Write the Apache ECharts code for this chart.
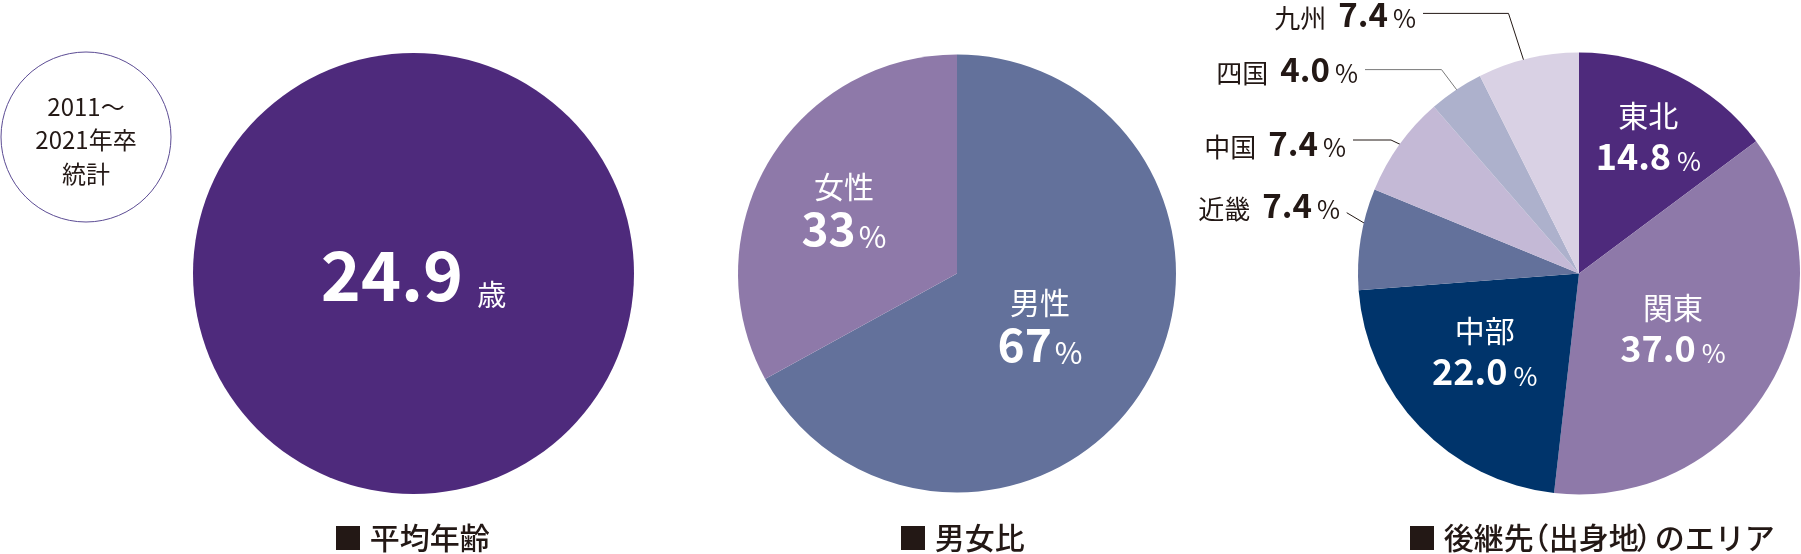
<!DOCTYPE html>
<html><head><meta charset="utf-8">
<script src="https://cdn.jsdelivr.net/npm/echarts@6/dist/echarts.min.js"></script>
<style>html,body{margin:0;padding:0;background:#fff}#c{width:1801px;height:554px}</style>
</head><body><div id="c"></div>
<script>
// ---- data ----
const ageValues = [24.9];
const ageUnit = '歳';
const genderNames = ['男性', '女性'];
const genderValues = [67, 33];
const areaNames = ['東北', '関東', '中部', '近畿', '中国', '四国', '九州'];
const areaValues = [14.8, 37.0, 22.0, 7.4, 7.4, 4.0, 7.4];
const chartTitles = ['平均年齢', '男女比', '後継先（出身地）のエリア'];
const noteLines = ['2011～', '2021年卒', '統計'];

// ---- style ----
const FONT = '"Noto Sans CJK JP", "Noto Sans", sans-serif';
const INK = '#231815';
const C = { deep: '#4e2a7c', lav: '#8e79a9', slate: '#63719b', navy: '#00346b', l1: '#c4b9d6', l2: '#adb1cc', l3: '#d9d1e4' };
const ageColors = [C.deep];
const genderColors = [C.slate, C.lav];
const areaColors = [C.deep, C.lav, C.navy, C.slate, C.l1, C.l2, C.l3];

const P1 = { cx: 413.5, cy: 273.5, r: 220.5 };
const P2 = { cx: 957, cy: 273.5, r: 219 };
const P3 = { cx: 1579, cy: 273.5, r: 221 };

function angleAt(values, i, t) {
  const total = values.reduce((a, b) => a + b, 0);
  let cum = 0;
  for (let k = 0; k < i; k++) cum += values[k];
  return (cum + values[i] * t) / total * Math.PI * 2;
}
function polar(p, a, f) { return [p.cx + Math.sin(a) * p.r * f, p.cy - Math.cos(a) * p.r * f]; }

// label placement: t = position within slice (0..1), f = radius fraction
const genderInner = { 0: { t: 0.5, f: 0.44 }, 1: { t: 0.5, f: 0.6 } };
const areaInner = { 0: { t: 0.5, f: 0.70 }, 1: { t: 0.5, f: 0.49 }, 2: { t: 0.56, f: 0.55 } };
const areaOuter = {
  3: { tx: 1340, ty: 203, ly: 212.7, ex: 1346.7, t: 0.6, f: 0.92, col: INK },
  4: { tx: 1346, ty: 141, ly: 140, ex: 1391, t: 0.55, f: 0.9, col: INK },
  5: { tx: 1358, ty: 67, ly: 69.6, ex: 1441.5, t: 0.52, f: 0.97, col: '#7a7a7a' },
  6: { tx: 1416, ty: 12, ly: 13.4, ex: 1508.5, t: 0.46, f: 0.95, col: INK }
};

const innerRich = {
  n: { fontFamily: FONT, fontSize: 30, color: '#fff', lineHeight: 40, verticalAlign: 'bottom' },
  v: { fontFamily: FONT, fontSize: 36, fontWeight: 'bold', color: '#fff', lineHeight: 44, verticalAlign: 'bottom' },
  p: { fontFamily: FONT, fontSize: 26, color: '#fff', lineHeight: 36, verticalAlign: 'bottom', padding: [0, 0, 0, 6] }
};
const outerRich = {
  on: { fontFamily: FONT, fontSize: 26, color: INK, lineHeight: 33, verticalAlign: 'bottom', padding: [0, 12, 0, 0] },
  ov: { fontFamily: FONT, fontSize: 33, fontWeight: 'bold', color: INK, lineHeight: 38, verticalAlign: 'bottom' },
  op: { fontFamily: FONT, fontSize: 25, color: INK, lineHeight: 32, verticalAlign: 'bottom', padding: [0, 0, 0, 5] }
};
const genderRich = {
  n: { fontFamily: FONT, fontSize: 30, color: '#fff', lineHeight: 44, verticalAlign: 'bottom' },
  v: { fontFamily: FONT, fontSize: 46, fontWeight: 'bold', color: '#fff', lineHeight: 50, verticalAlign: 'bottom' },
  p: { fontFamily: FONT, fontSize: 30, color: '#fff', lineHeight: 37, verticalAlign: 'bottom', padding: [0, 0, 0, 3] }
};

const chart = echarts.init(document.getElementById('c'), null, { renderer: 'canvas' });

const areaData = areaNames.map((n, i) => {
  const outer = areaOuter[i];
  return {
    name: n, value: areaValues[i],
    itemStyle: { color: areaColors[i] },
    label: outer
      ? { position: 'outside', formatter: '{on|' + n + '}{ov|' + areaValues[i].toFixed(1) + '}{op|%}', rich: outerRich }
      : { position: 'inside', formatter: '{n|' + n + '}\n{v|' + areaValues[i].toFixed(1) + '}{p|%}', rich: innerRich },
    labelLine: { show: !!outer, lineStyle: { color: outer ? outer.col : INK, width: 1 } }
  };
});

// ---- titles as text pieces (proportional brackets) ----
const TITLE_FONT_W = 500, TITLE_FS = 30;
const mctx = document.createElement('canvas').getContext('2d');
mctx.font = TITLE_FONT_W + ' ' + TITLE_FS + 'px ' + FONT;
function titleGraphics(text, x0, y) {
  const out = [];
  const pieces = ('■ ' + text).split(/([（）])/).filter(s => s.length);
  let x = x0;
  pieces.forEach(s => {
    let dx = 0, adv = mctx.measureText(s).width;
    if (s === '（') { dx = -TITLE_FS * 0.48; adv = TITLE_FS * 0.5; }
    if (s === '）') { dx = -TITLE_FS * 0.1; adv = TITLE_FS * 0.53; }
    out.push({ type: 'text', x: x + dx, y: y, silent: true,
      style: { text: s, fontFamily: FONT, fontWeight: TITLE_FONT_W, fontSize: TITLE_FS, fill: INK, align: 'left', verticalAlign: 'middle' } });
    x += adv;
  });
  return out;
}
const titleX = [333, 898, 1407];

const option = {
  animation: false,
  series: [
    {
      type: 'pie', silent: true, center: [P1.cx, P1.cy], radius: P1.r, startAngle: 90,
      data: ageValues.map((v, i) => ({ name: chartTitles[0], value: v, itemStyle: { color: ageColors[i] } })),
      label: {
        show: true, position: 'center',
        formatter: p => '{v|' + p.value.toFixed(1) + '}{u|' + ageUnit + '}',
        rich: {
          v: { fontFamily: FONT, fontSize: 68, fontWeight: 'bold', color: '#fff', lineHeight: 78, verticalAlign: 'bottom' },
          u: { fontFamily: FONT, fontSize: 29, color: '#fff', lineHeight: 46, verticalAlign: 'bottom', padding: [0, 0, 0, 14] }
        }
      },
      labelLayout: { dy: -3 },
      labelLine: { show: false }
    },
    {
      type: 'pie', silent: true, center: [P2.cx, P2.cy], radius: P2.r, startAngle: 90, clockwise: true,
      avoidLabelOverlap: false,
      data: genderNames.map((n, i) => ({ name: n, value: genderValues[i], itemStyle: { color: genderColors[i] } })),
      label: {
        show: true, position: 'inside',
        formatter: p => '{n|' + p.name + '}\n{v|' + p.value + '}{p|%}',
        rich: genderRich
      },
      labelLine: { show: false },
      labelLayout: params => {
        const g = genderInner[params.dataIndex];
        const pt = polar(P2, angleAt(genderValues, params.dataIndex, g.t), g.f);
        return { x: pt[0], y: pt[1] - 2, align: 'center', verticalAlign: 'middle' };
      }
    },
    {
      type: 'pie', silent: true, center: [P3.cx, P3.cy], radius: P3.r, startAngle: 90, clockwise: true,
      avoidLabelOverlap: false,
      data: areaData,
      label: { show: true },
      labelLayout: params => {
        const i = params.dataIndex;
        const o = areaOuter[i];
        if (!o) {
          const g = areaInner[i];
          const pt = polar(P3, angleAt(areaValues, i, g.t), g.f);
          return { x: pt[0], y: pt[1] - 3, align: 'center', verticalAlign: 'middle' };
        }
        const a = polar(P3, angleAt(areaValues, i, o.t), o.f);
        const end = [o.tx + 7, o.ly];
        return {
          x: o.tx, y: o.ty, align: 'right', verticalAlign: 'middle',
          labelLinePoints: [a, [o.ex, o.ly], i === 3 ? [o.ex, o.ly] : end]
        };
      }
    }
  ],
  graphic: [
    { type: 'circle', shape: { cx: 86, cy: 137, r: 85 }, style: { fill: '#fff', stroke: '#5b4b93', lineWidth: 1 }, silent: true },
    { type: 'text', x: 86, y: 140, silent: true,
      style: { text: noteLines.join('\n'), fontFamily: FONT, fontSize: 24, fill: INK, align: 'center', verticalAlign: 'middle', lineHeight: 33.5 } }
  ].concat(titleGraphics(chartTitles[0], titleX[0], 538))
   .concat(titleGraphics(chartTitles[1], titleX[1], 538))
   .concat(titleGraphics(chartTitles[2], titleX[2], 538))
};
chart.setOption(option);
</script>
</body></html>
